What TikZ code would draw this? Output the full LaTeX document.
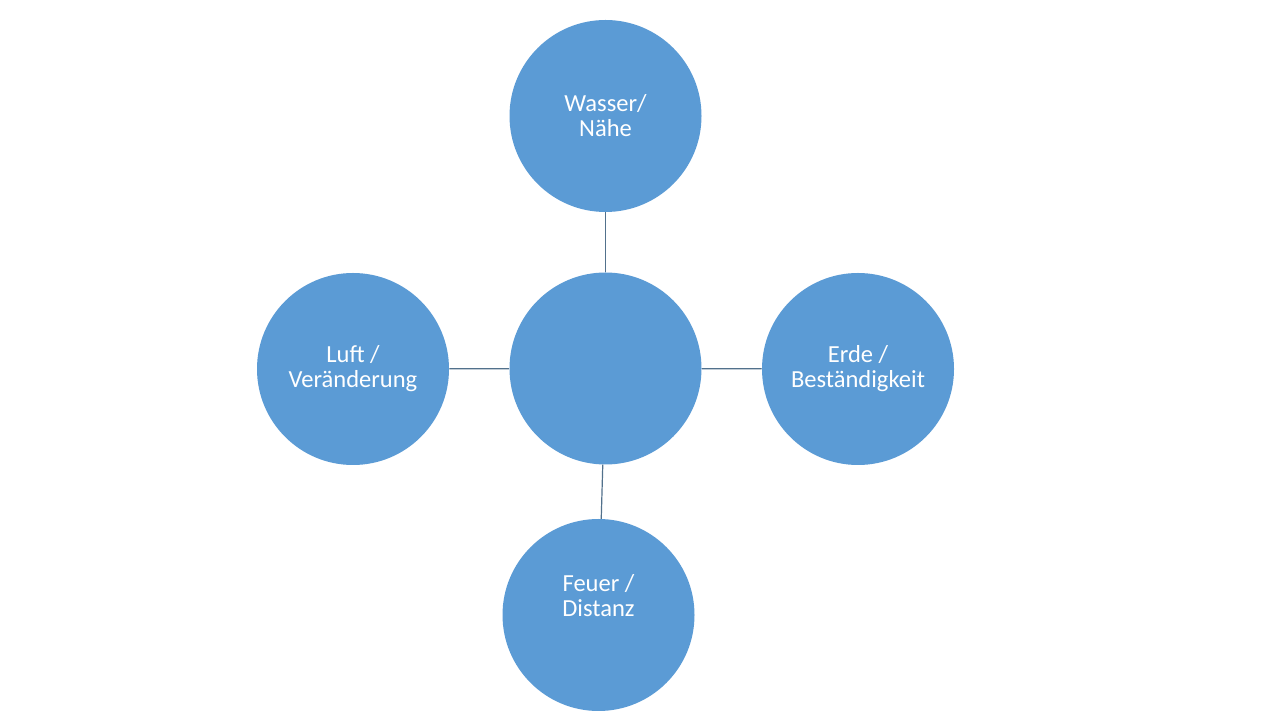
\documentclass[tikz,border=0pt]{standalone}
\usepackage{fontspec}
\setmainfont{Carlito}
\definecolor{elementblue}{HTML}{5B9BD5}
\definecolor{linkgray}{HTML}{52718C}
\tikzset{
  element/.style={circle,fill=elementblue,draw=none,minimum size=144pt,
    inner sep=0pt,align=center,text=white},
  elementtext/.style={inner sep=0pt,align=center,text=white},
  link/.style={draw=linkgray,line width=0.9pt}
}
\begin{document}
\begin{tikzpicture}[x=0.75pt,y=0.75pt,font=\fontsize{18.4}{18.75}\selectfont]
        \useasboundingbox[fill=white] (0,0) rectangle (1280,720);
        %% Centre
        \node[element] (centre) at (605.5,351.5) {};
        %% Elements
        \node[element] (water) at (605.5,604) {Wasser/\\Nähe};
        \node[element] (air) at (353,351) {Luft /\\Veränderung};
        \node[element] (earth) at (858,351) {Erde /\\Beständigkeit};
        \node[element] (fire) at (598.5,105) {};
        \node[elementtext] (firetext) at ([yshift=14.25pt]fire.center) {Feuer /\\Distanz};
        %% Links
        \draw[link] (centre) -- (water);
        \draw[link] (centre) -- (air);
        \draw[link] (centre) -- (earth);
        \draw[link] (centre) -- (fire);
    \end{tikzpicture}
\end{document}
